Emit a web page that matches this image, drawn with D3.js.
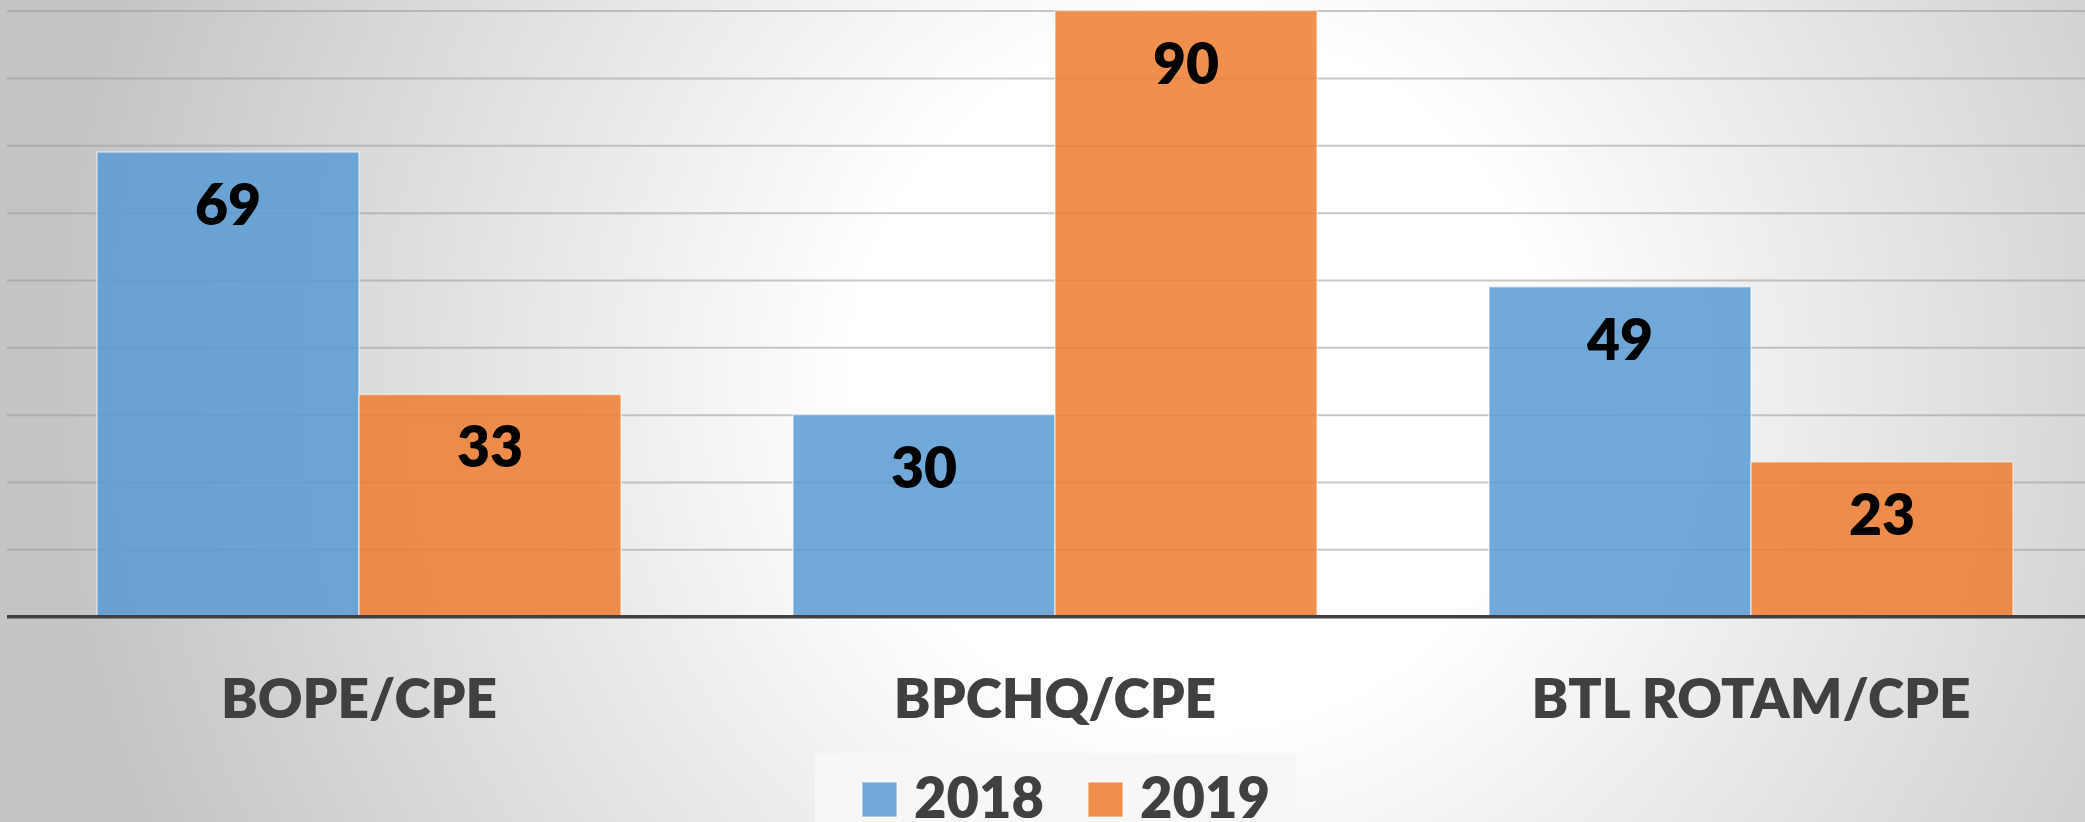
<!DOCTYPE html>
<html>
<head>
<meta charset="utf-8">
<script src="https://cdn.jsdelivr.net/npm/d3@7"></script>
<style>
  html, body { margin: 0; padding: 0; overflow: hidden; }
  svg { display: block; }
</style>
</head>
<body>
<div id="chart"></div>
<script>
// data
var categories = ["BOPE/CPE", "BPCHQ/CPE", "BTL ROTAM/CPE"];
var years = ["2018", "2019"];
var values2018 = [69, 30, 49];
var values2019 = [33, 90, 23];
var gridTicks = [10, 20, 30, 40, 50, 60, 70, 80, 90];
var colors = ["#5B9BD5", "#ED7D31"];

var width = 2085, height = 822;
var fontFam = "Lato, 'Open Sans', sans-serif";

var svg = d3.select("#chart")
  .append("svg")
  .attr("width", width)
  .attr("height", height);

// background: soft radial gradient, white in the middle
var defs = svg.append("defs");
var grad = defs.append("radialGradient")
  .attr("id", "bg")
  .attr("gradientUnits", "userSpaceOnUse")
  .attr("cx", 1200).attr("cy", 380).attr("r", 1150);
grad.append("stop").attr("offset", "0").attr("stop-color", "#ffffff");
grad.append("stop").attr("offset", "0.3").attr("stop-color", "#ffffff");
grad.append("stop").attr("offset", "1").attr("stop-color", "#c4c4c4");

svg.append("rect")
  .attr("width", width).attr("height", height)
  .attr("fill", "url(#bg)");

// scales
var y = d3.scaleLinear().domain([0, 90]).range([616.7, 10.6]);
var x0 = d3.scaleBand().domain(categories).range([11, 2099])
  .paddingInner(0.247).paddingOuter(0.1235);
var x1 = d3.scaleBand().domain(years).range([0, x0.bandwidth()]);
var color = d3.scaleOrdinal().domain(years).range(colors);

// gridlines
var grid = svg.append("g")
  .attr("transform", "translate(7,0)")
  .call(d3.axisLeft(y).tickValues(gridTicks).tickSize(-(width - 7)).tickFormat(""));
grid.select(".domain").remove();
grid.selectAll(".tick line")
  .attr("stroke", "#9a9a9a")
  .attr("stroke-opacity", 0.55)
  .attr("stroke-width", 2);

// rows of data per category
var rows = categories.map(function(c, i) {
  return { cat: c, vals: [
    { year: years[0], value: values2018[i] },
    { year: years[1], value: values2019[i] }
  ]};
});

var groups = svg.selectAll(".grp")
  .data(rows)
  .enter()
  .append("g")
  .attr("class", "grp")
  .attr("transform", function(d) { return "translate(" + x0(d.cat) + ",0)"; });

groups.selectAll("rect")
  .data(function(d) { return d.vals; })
  .enter()
  .append("rect")
  .attr("x", function(d) { return x1(d.year); })
  .attr("y", function(d) { return y(d.value); })
  .attr("width", x1.bandwidth())
  .attr("height", function(d) { return y(0) - y(d.value); })
  .attr("fill", function(d) { return color(d.year); })
  .attr("fill-opacity", 0.86)
  .attr("stroke", "#ffffff")
  .attr("stroke-opacity", 0.55)
  .attr("stroke-width", 1.5);

// value labels inside the top of each bar
groups.selectAll(".val")
  .data(function(d) { return d.vals; })
  .enter()
  .append("text")
  .attr("class", "val")
  .attr("x", function(d) { return x1(d.year) + x1.bandwidth() / 2; })
  .attr("y", function(d) { return y(d.value) + 73; })
  .attr("text-anchor", "middle")
  .style("font-family", fontFam)
  .style("font-weight", "800")
  .style("font-size", "57px")
  .attr("fill", "#000000")
  .text(function(d) { return d.value; });

// x axis: baseline and category labels
var xAxis = svg.append("g")
  .attr("transform", "translate(0," + y(0) + ")")
  .call(d3.axisBottom(x0).tickSize(0));
xAxis.select(".domain")
  .attr("d", "M7,0H" + width)
  .attr("stroke", "#404040")
  .attr("stroke-width", 3.5);
xAxis.selectAll(".tick text")
  .attr("y", 101)
  .attr("dy", 0)
  .style("font-family", fontFam)
  .style("font-weight", "800")
  .style("font-size", "55px")
  .attr("fill", "#404040");

// legend
var legend = svg.append("g");
legend.append("rect")
  .attr("x", 815).attr("y", 753)
  .attr("width", 481).attr("height", 80)
  .attr("fill", "#f7f7f7");

var legendX = [862, 1088];
var items = legend.selectAll(".item")
  .data(years)
  .enter()
  .append("g")
  .attr("class", "item")
  .attr("transform", function(d, i) { return "translate(" + legendX[i] + ",0)"; });

items.append("rect")
  .attr("x", 0).attr("y", 782)
  .attr("width", 35).attr("height", 35)
  .attr("fill", function(d) { return color(d); })
  .attr("fill-opacity", 0.86)
  .attr("stroke", "#ffffff")
  .attr("stroke-opacity", 0.55)
  .attr("stroke-width", 1.5);

items.append("text")
  .attr("x", 52).attr("y", 818)
  .style("font-family", fontFam)
  .style("font-weight", "800")
  .style("font-size", "56px")
  .attr("fill", "#404040")
  .text(function(d) { return d; });
</script>
</body>
</html>
